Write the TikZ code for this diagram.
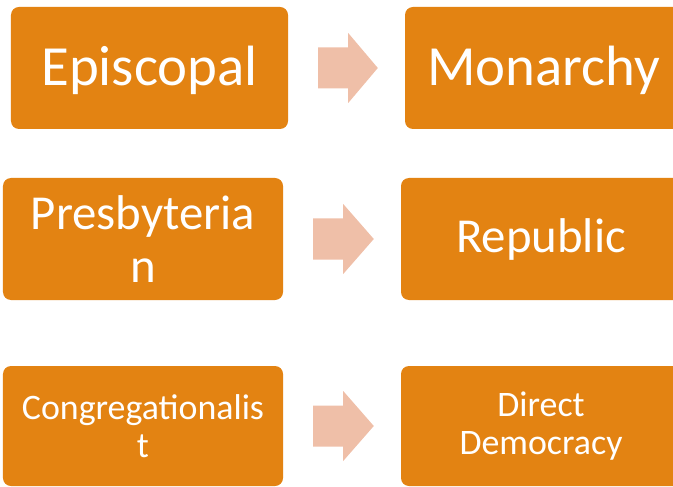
\documentclass[tikz,border=0pt]{standalone}
\usepackage{fontspec}
\setmainfont{Carlito}
\usetikzlibrary{calc}
\definecolor{boxorange}{RGB}{227,131,18}
\definecolor{arrowpeach}{RGB}{239,191,168}
\tikzset{
  box/.style={fill=boxorange, draw=none, rounded corners=8bp, text=white,
    align=center, inner sep=0pt, minimum height=122bp, minimum width=277bp},
  bigtext/.style={font=\fontsize{57}{62}\selectfont, text=white},
  midtext/.style={font=\fontsize{49}{53}\selectfont},
  smalltext/.style={font=\fontsize{36}{38}\selectfont},
  blockarrow/.style={fill=arrowpeach, draw=none}
}
\newcommand{\linkarrow}[2]{%
  \fill[blockarrow] ($(#1.east)+(30,-20.5)$) -- ($(#1.east)+(60,-20.5)$)
    -- ($(#1.east)+(60,-35)$) -- ($(#2.west)+(-27,0)$)
    -- ($(#1.east)+(60,35)$) -- ($(#1.east)+(60,20.5)$)
    -- ($(#1.east)+(30,20.5)$) -- cycle;}
\begin{document}
\begin{tikzpicture}[x=1bp,y=-1bp]
\useasboundingbox (0,0) rectangle (673,487);
\clip (0,0) rectangle (673,487);
% row 1
\node[box, minimum width=277bp] (epi) at (149.5,68) {};
\node[bigtext] (epilabel) at ($(epi.center)+(0,2)$) {Episcopal};
\node[box, minimum width=277bp] (mon) at (543.5,68) {};
\node[bigtext] (monlabel) at ($(mon.center)+(0,2)$) {Monarchy};
% row 2
\node[box, midtext, minimum width=280bp] (pre) at (143,239) {Presbyteria\\n};
\node[box, midtext, minimum width=280bp] (rep) at (541,239) {Republic};
% row 3
\node[box, smalltext, minimum width=280bp, minimum height=120bp] (con) at (143,426) {Congregationalis\\t};
\node[box, smalltext, minimum width=280bp, minimum height=120bp] (dem) at (541,426) {Direct\\Democracy};
% arrows
\linkarrow{epi}{mon}
\linkarrow{pre}{rep}
\linkarrow{con}{dem}
\end{tikzpicture}
\end{document}
